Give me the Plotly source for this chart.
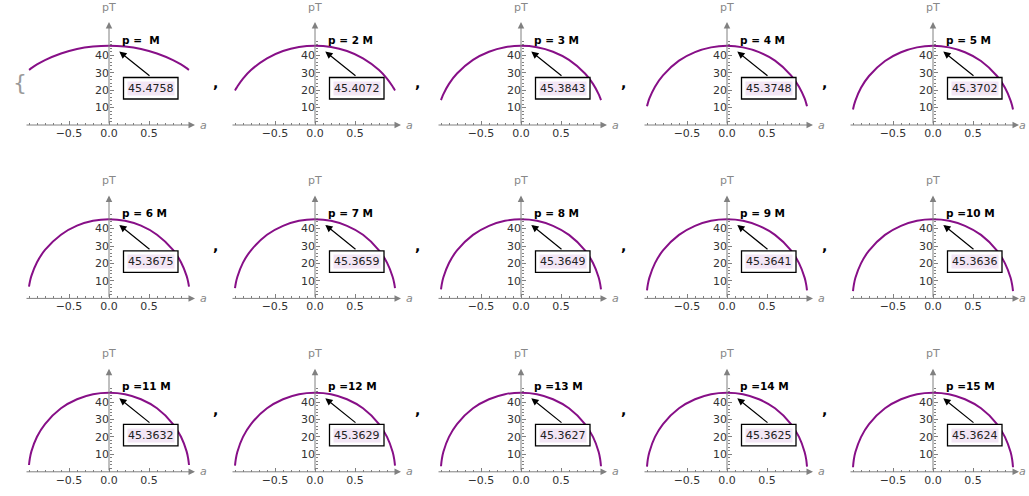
import plotly.graph_objects as go

W, H = 1029, 496

# ---- data ----
p_values = [1, 2, 3, 4, 5, 6, 7, 8, 9, 10, 11, 12, 13, 14, 15]
p_labels = ["p =  M", "p = 2 M", "p = 3 M", "p = 4 M", "p = 5 M",
            "p = 6 M", "p = 7 M", "p = 8 M", "p = 9 M", "p =10 M",
            "p =11 M", "p =12 M", "p =13 M", "p =14 M", "p =15 M"]
peak_labels = ["45.4758", "45.4072", "45.3843", "45.3748", "45.3702",
               "45.3675", "45.3659", "45.3649", "45.3641", "45.3636",
               "45.3632", "45.3629", "45.3627", "45.3625", "45.3624"]

a_grid = [-1.0, -0.99, -0.97, -0.9, -0.8, -0.6, -0.4, -0.2, 0.0,
          0.2, 0.4, 0.6, 0.8, 0.9, 0.97, 0.99, 1.0]

pT_p1 = [31.6, 31.9, 32.6, 34.7, 37.2, 41.0, 43.6, 45.0, 45.48, 45.0, 43.6, 41.0, 37.2, 34.7, 32.6, 31.9, 31.6]
pT_p2 = [19.8, 20.6, 22.1, 26.6, 31.5, 38.2, 42.4, 44.7, 45.41, 44.7, 42.4, 38.2, 31.5, 26.6, 22.1, 20.6, 19.8]
pT_p3 = [14.3, 15.5, 17.7, 23.6, 29.5, 37.3, 42.0, 44.6, 45.38, 44.6, 42.0, 37.3, 29.5, 23.6, 17.7, 15.5, 14.3]
pT_p4 = [10.7, 12.4, 15.2, 22.0, 28.5, 36.9, 41.8, 44.5, 45.37, 44.5, 41.8, 36.9, 28.5, 22.0, 15.2, 12.4, 10.7]
pT_p5 = [8.9, 10.9, 14.0, 21.3, 28.1, 36.7, 41.7, 44.5, 45.37, 44.5, 41.7, 36.7, 28.1, 21.3, 14.0, 10.9, 8.9]
pT_p6 = [6.8, 9.3, 12.9, 20.7, 27.8, 36.5, 41.7, 44.5, 45.37, 44.5, 41.7, 36.5, 27.8, 20.7, 12.9, 9.3, 6.8]
pT_p7 = [5.9, 8.7, 12.4, 20.5, 27.6, 36.5, 41.6, 44.5, 45.37, 44.5, 41.6, 36.5, 27.6, 20.5, 12.4, 8.7, 5.9]
pT_p8 = [5.2, 8.2, 12.1, 20.3, 27.5, 36.4, 41.6, 44.5, 45.36, 44.5, 41.6, 36.4, 27.5, 20.3, 12.1, 8.2, 5.2]
pT_p9 = [4.6, 7.9, 11.9, 20.2, 27.5, 36.4, 41.6, 44.5, 45.36, 44.5, 41.6, 36.4, 27.5, 20.2, 11.9, 7.9, 4.6]
pT_p10 = [4.2, 7.6, 11.8, 20.1, 27.4, 36.4, 41.6, 44.5, 45.36, 44.5, 41.6, 36.4, 27.4, 20.1, 11.8, 7.6, 4.2]
pT_p11 = [3.9, 7.5, 11.7, 20.1, 27.4, 36.4, 41.6, 44.5, 45.36, 44.5, 41.6, 36.4, 27.4, 20.1, 11.7, 7.5, 3.9]
pT_p12 = [3.5, 7.3, 11.5, 20.0, 27.4, 36.4, 41.6, 44.5, 45.36, 44.5, 41.6, 36.4, 27.4, 20.0, 11.5, 7.3, 3.5]
pT_p13 = [3.2, 7.1, 11.5, 20.0, 27.4, 36.4, 41.6, 44.5, 45.36, 44.5, 41.6, 36.4, 27.4, 20.0, 11.5, 7.1, 3.2]
pT_p14 = [3.0, 7.1, 11.4, 20.0, 27.4, 36.4, 41.6, 44.5, 45.36, 44.5, 41.6, 36.4, 27.4, 20.0, 11.4, 7.1, 3.0]
pT_p15 = [2.6, 6.9, 11.3, 19.9, 27.4, 36.4, 41.6, 44.5, 45.36, 44.5, 41.6, 36.4, 27.4, 19.9, 11.3, 6.9, 2.6]

series = [pT_p1, pT_p2, pT_p3, pT_p4, pT_p5, pT_p6, pT_p7, pT_p8,
          pT_p9, pT_p10, pT_p11, pT_p12, pT_p13, pT_p14, pT_p15]

x_tick_vals = [-0.5, 0.0, 0.5]
x_tick_text = ["\u22120.5", "0.0", "0.5"]
x_minor_vals = [-1.0, -0.9, -0.8, -0.7, -0.6, -0.4, -0.3, -0.2, -0.1,
                0.1, 0.2, 0.3, 0.4, 0.6, 0.7, 0.8, 0.9, 1.0]
y_tick_vals = [10, 20, 30, 40]
y_tick_text = ["10", "20", "30", "40"]
y_minor_vals = [2, 4, 6, 8, 12, 14, 16, 18, 22, 24, 26, 28, 32, 34, 36, 38, 42, 44, 46, 48]

# ---- layout geometry (pixels) ----
PX_PER_A = 80.0
PX_PER_PT = 1.744
HALF_W = 95
TOP_H = 125
COL0, COL_STEP = 109, 206.0
ROW0, ROW_STEP = 125, 173.4

FONT = "DejaVu Sans"
AXIS_GRAY = "#808080"
PURPLE = "#870f87"

fig = go.Figure()
annotations = []
shapes = []

for i, (pv, ys) in enumerate(zip(p_values, series)):
    r, c = divmod(i, 5)
    X0 = COL0 + COL_STEP * c
    Y0 = ROW0 + ROW_STEP * r
    n = i + 1
    xa = "x" if n == 1 else f"x{n}"
    ya = "y" if n == 1 else f"y{n}"
    xkey = "xaxis" if n == 1 else f"xaxis{n}"
    ykey = "yaxis" if n == 1 else f"yaxis{n}"

    fig.add_trace(go.Scatter(x=a_grid, y=ys, mode="lines",
                             line=dict(color=PURPLE, width=2, shape="spline", smoothing=1.0),
                             xaxis=xa, yaxis=ya, showlegend=False, hoverinfo="skip"))

    xr = [-HALF_W / PX_PER_A, HALF_W / PX_PER_A]
    yr = [0, TOP_H / PX_PER_PT]
    fig.layout[xkey] = dict(
        domain=[(X0 - HALF_W) / W, (X0 + HALF_W) / W], range=xr, anchor=ya,
        showgrid=False, zeroline=False, showline=False, automargin=False,
        tickmode="array", tickvals=x_tick_vals, ticktext=x_tick_text,
        ticks="inside", ticklen=4, tickcolor=AXIS_GRAY, tickwidth=1,
        minor=dict(tickmode="array", tickvals=x_minor_vals, ticks="inside",
                   ticklen=2, tickcolor=AXIS_GRAY, tickwidth=1, showgrid=False),
        tickfont=dict(family=FONT, size=11, color="#333333"), fixedrange=True)
    fig.layout[ykey] = dict(
        domain=[1 - Y0 / H, 1 - (Y0 - TOP_H) / H], range=yr,
        anchor="free", position=X0 / W,
        showgrid=False, zeroline=False, showline=False, automargin=False,
        tickmode="array", tickvals=y_tick_vals, ticktext=y_tick_text,
        ticks="inside", ticklen=4, tickcolor=AXIS_GRAY, tickwidth=1,
        minor=dict(tickmode="array", tickvals=y_minor_vals, ticks="inside",
                   ticklen=2, tickcolor=AXIS_GRAY, tickwidth=1, showgrid=False),
        tickfont=dict(family=FONT, size=11, color="#333333"), fixedrange=True)

    # axis arrows
    annotations.append(dict(x=86 / PX_PER_A, y=0, ax=-84 / PX_PER_A, ay=0,
                            xref=xa, yref=ya, axref=xa, ayref=ya, text="",
                            showarrow=True, arrowhead=2, arrowsize=1.3, arrowwidth=1,
                            arrowcolor=AXIS_GRAY, standoff=0, startstandoff=0))
    annotations.append(dict(x=0, y=103 / PX_PER_PT, ax=0, ay=0,
                            xref=xa, yref=ya, axref=xa, ayref=ya, text="",
                            showarrow=True, arrowhead=2, arrowsize=1.3, arrowwidth=1,
                            arrowcolor=AXIS_GRAY, standoff=0, startstandoff=0))
    # axis labels
    annotations.append(dict(x=0, y=118 / PX_PER_PT, xref=xa, yref=ya, text="pT",
                            showarrow=False, font=dict(family=FONT, size=11, color="#888888")))
    a_off = 89 if c < 4 else 84
    annotations.append(dict(x=a_off / PX_PER_A, y=0, xref=xa, yref=ya, text="<i>a</i>",
                            showarrow=False, xanchor="left",
                            font=dict(family=FONT, size=11, color="#888888")))
    # p label
    annotations.append(dict(x=10.5 / PX_PER_A, y=85.5 / PX_PER_PT, xref=xa, yref=ya,
                            text=f"<b>{p_labels[i]}</b>", showarrow=False, xanchor="left",
                            font=dict(family=FONT, size=10.5, color="black")))
    # callout box
    shapes.append(dict(type="rect", xref=xa, yref=ya,
                       x0=14.5 / PX_PER_A, x1=69 / PX_PER_A,
                       y0=26 / PX_PER_PT, y1=47.5 / PX_PER_PT,
                       line=dict(color="black", width=1.3), fillcolor="white", layer="above"))
    annotations.append(dict(x=41.5 / PX_PER_A, y=36.5 / PX_PER_PT, xref=xa, yref=ya,
                            text=peak_labels[i], showarrow=False, bgcolor="#f3e6f5",
                            borderpad=0, font=dict(family=FONT, size=11, color="#222222")))
    # callout arrow
    annotations.append(dict(x=10.3 / PX_PER_A, y=73.5 / PX_PER_PT,
                            ax=42 / PX_PER_A, ay=48 / PX_PER_PT,
                            xref=xa, yref=ya, axref=xa, ayref=ya, text="",
                            showarrow=True, arrowhead=2, arrowsize=1.2, arrowwidth=1.2,
                            arrowcolor="black", standoff=0, startstandoff=0))

# commas between panels
for r in range(3):
    for c in range(4):
        X0 = COL0 + COL_STEP * c
        Y0 = ROW0 + ROW_STEP * r
        annotations.append(dict(x=(X0 + 102) / W, y=1 - (Y0 - 52) / H,
                                xref="paper", yref="paper", text="<b>,</b>",
                                showarrow=False, font=dict(family=FONT, size=14, color="black")))
# opening brace
annotations.append(dict(x=11 / W, y=1 - 68 / H, xref="paper", yref="paper", text="{",
                        showarrow=False, font=dict(family="DejaVu Sans ExtraLight, DejaVu Sans", size=22, color="#9a9a9a")))

fig.update_layout(width=W, height=H, margin=dict(l=0, r=0, t=0, b=0),
                  paper_bgcolor="white", plot_bgcolor="white",
                  annotations=annotations, shapes=shapes, showlegend=False)

fig.write_html("out.html", config={"displayModeBar": False},
               post_script="document.body.style.margin='0';document.body.style.padding='0';"
                           "document.documentElement.style.overflow='hidden';")
